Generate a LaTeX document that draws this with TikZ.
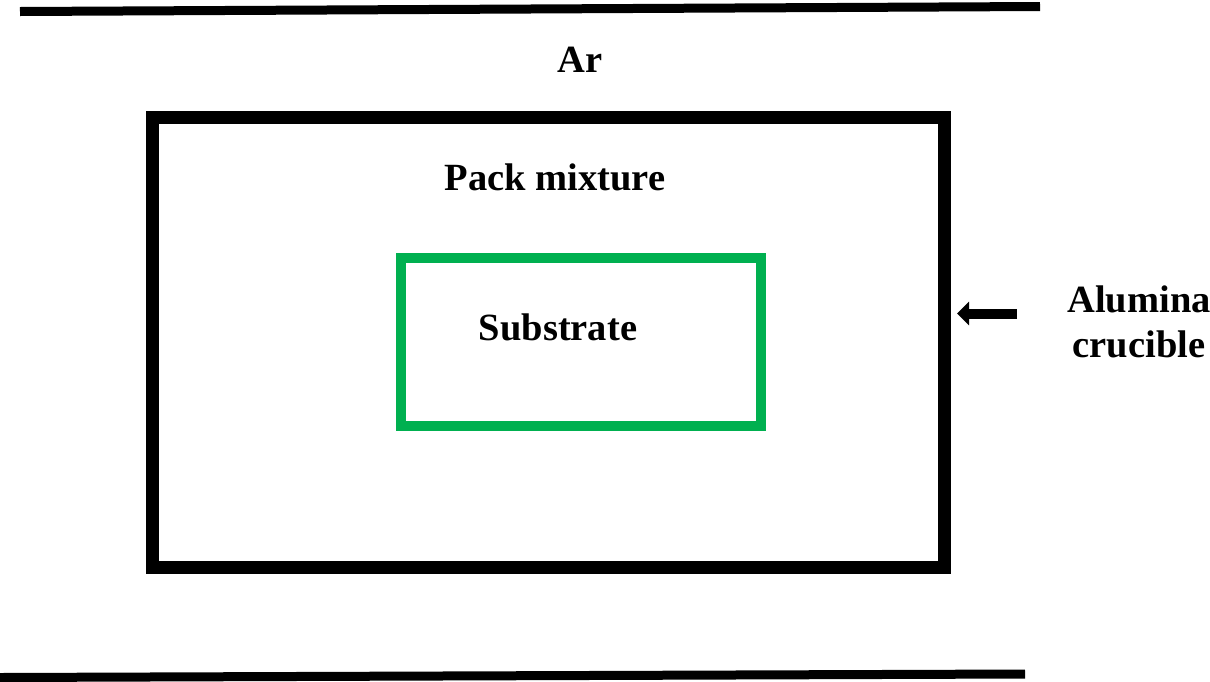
\documentclass[tikz,border=0pt]{standalone}
\usepackage{fontspec}
\setmainfont{Liberation Serif}
\usetikzlibrary{arrows.meta}
\definecolor{offgreen}{HTML}{00B050}
\tikzset{
  label/.style={font=\fontsize{38.5}{45}\selectfont\bfseries, inner sep=0pt, anchor=base},
  wall/.style={line width=9pt},
  box/.style={draw, rectangle, inner sep=0pt, outer sep=0pt},
}
\begin{document}
\begin{tikzpicture}[x=1pt,y=-1pt]
\useasboundingbox (0,0) rectangle (1210,681);
% tube walls
\coordinate (t1) at (20,11.5);
\coordinate (t2) at (1040,6.5);
\coordinate (b1) at (0,677.5);
\coordinate (b2) at (1025,674);
\draw[wall] (t1) -- (t2);
\draw[wall] (b1) -- (b2);
% crucible
\node[box, line width=13pt, minimum width=792pt, minimum height=450pt] (crucible) at (548.5,342.5) {};
% substrate
\node[box, draw=offgreen, line width=10pt, minimum width=360pt, minimum height=168pt] (substrate) at (581,342) {};
% labels
\node[label] (ar) at (580,72) {Ar};
\node[label] (pack) at (555,190) {Pack mixture};
\node[label] (sub) at (558,340) {Substrate};
\node[label] (alu) at (1139,312) {Alumina};
\node[label] (cru) at (1139,357) {crucible};
% arrow
\coordinate (a1) at (1017,313.5);
\coordinate (a2) at (957,313.5);
\draw[line width=10pt, -{Triangle[length=12pt,width=23pt]}] (a1) -- (a2);
\end{tikzpicture}
\end{document}
